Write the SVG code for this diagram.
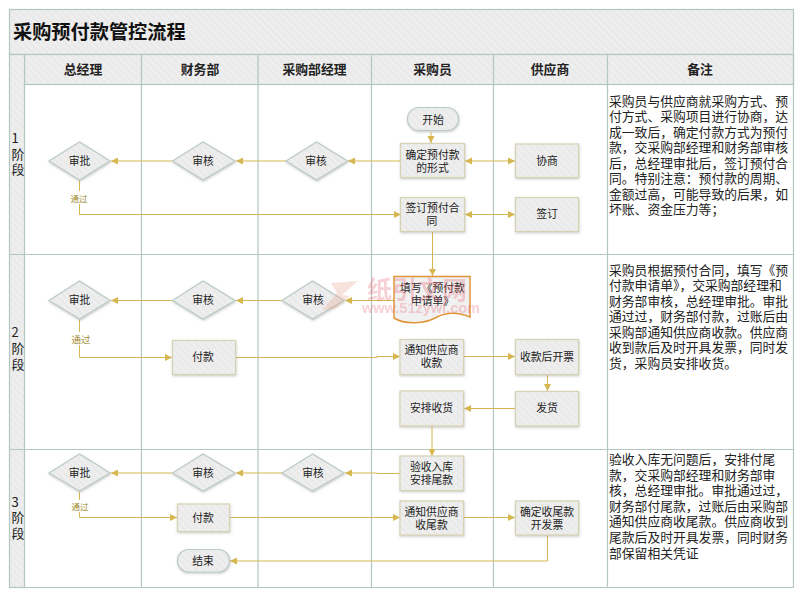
<svg xmlns="http://www.w3.org/2000/svg" width="800" height="592" viewBox="0 0 800 592">
<style>
text{font-family:"Noto Sans CJK SC","Liberation Sans",sans-serif;fill:#222;text-anchor:middle;dominant-baseline:central}
.n{font-size:10.8px}.h{font-size:12.8px;font-weight:700}.s{font-size:13px}
.note{font-size:12.8px;text-anchor:start;dominant-baseline:auto}
.l{stroke:#b4c6c0;stroke-width:1.2;fill:url(#hatch)}
.gl{stroke:#b4c6c0;stroke-width:1.2;fill:none}
.r{fill:url(#hatch);stroke:#d8d2b4;stroke-width:1.2;filter:url(#sh)}
.d{fill:url(#hatch);stroke:#bccbc6;stroke-width:1.2;filter:url(#sh)}
.c{fill:none;stroke:#d6b64e;stroke-width:1}
.t{font-size:8.5px;fill:#a08a30}
</style>
<defs>
<pattern id="hatch" width="5" height="5" patternUnits="userSpaceOnUse" patternTransform="rotate(-45)"><rect width="5" height="5" fill="#eeeeee"/><rect width="2" height="5" fill="#e9e9e9"/></pattern>
<filter id="sh" x="-10%" y="-10%" width="120%" height="125%"><feDropShadow dx="0.5" dy="1.2" stdDeviation="0.8" flood-color="#999" flood-opacity="0.5"/></filter>
<marker id="a" markerWidth="8" markerHeight="8" refX="7" refY="4" orient="auto-start-reverse" markerUnits="userSpaceOnUse"><path d="M0 .5L7 4L0 7.5z" fill="#d6b64e"/></marker>
</defs>
<rect width="800" height="592" fill="#fff"/>
<g id="frame">
<rect class="l" x="9.500" y="9.500" width="784" height="45"/>
<rect class="l" x="24.500" y="54.500" width="769" height="30"/>
<rect class="l" x="9.500" y="54.500" width="15" height="533"/>
<path class="gl" d="M141.500 54.500V587.500M258 54.500V587.500M371.500 54.500V587.500M493.500 54.500V587.500M607.500 54.500V587.500M793.500 54.500V587.500M9.500 254.500H793.500M9.500 449.500H793.500M9.500 587.500H793.500"/>
</g>
<text x="13" y="31" style="font-size:19.2px;font-weight:700;text-anchor:start;fill:#111">采购预付款管控流程</text>
<g id="headers">
<text class="h" x="83" y="68.500">总经理</text><text class="h" x="200" y="68.500">财务部</text><text class="h" x="314.500" y="68.500">采购部经理</text><text class="h" x="432.500" y="68.500">采购员</text><text class="h" x="550" y="68.500">供应商</text><text class="h" x="700" y="68.500">备注</text>
</g>
<g id="stages">
<text class="s" x="15" y="137">1</text><text class="s" x="18" y="153">阶</text><text class="s" x="18" y="168">段</text>
<text class="s" x="15" y="331">2</text><text class="s" x="18" y="347">阶</text><text class="s" x="18" y="363">段</text>
<text class="s" x="15" y="501">3</text><text class="s" x="18" y="516">阶</text><text class="s" x="18" y="532">段</text>
</g>
<g id="connectors">
<path class="c" marker-end="url(#a)" d="M431 132V143"/>
<path class="c" marker-end="url(#a)" d="M401 161H348"/>
<path class="c" marker-end="url(#a)" d="M286 161H236"/>
<path class="c" marker-end="url(#a)" d="M172 161H111"/>
<path class="c" marker-start="url(#a)" marker-end="url(#a)" d="M465 161H515"/>
<path class="c" d="M79.500 180V214.500H401" marker-end="url(#a)"/>
<path class="c" marker-start="url(#a)" marker-end="url(#a)" d="M465 214.500H515"/>
<path class="c" marker-end="url(#a)" d="M432.500 232V276"/>
<path class="c" marker-end="url(#a)" d="M394 300.500H345"/>
<path class="c" marker-end="url(#a)" d="M282 300.500H236"/>
<path class="c" marker-end="url(#a)" d="M172 300.500H111"/>
<path class="c" d="M79.500 319V357.500H172" marker-end="url(#a)"/>
<path class="c" d="M236 357.500H377V356.500H400" marker-end="url(#a)"/>
<path class="c" d="M464 356.500H515" marker-end="url(#a)"/>
<path class="c" d="M547.500 374V391" marker-end="url(#a)"/>
<path class="c" d="M515 408.500H464" marker-end="url(#a)"/>
<path class="c" d="M432 426V456" marker-end="url(#a)"/>
<path class="c" d="M400 473.500H377V473H345" marker-end="url(#a)"/>
<path class="c" d="M282 473H236" marker-end="url(#a)"/>
<path class="c" d="M172 473H111" marker-end="url(#a)"/>
<path class="c" d="M79.500 492V517.500H177" marker-end="url(#a)"/>
<path class="c" d="M230 517.500H400" marker-end="url(#a)"/>
<path class="c" d="M464 517.500H515" marker-end="url(#a)"/>
<path class="c" d="M547.500 535V561H230" marker-end="url(#a)"/>
</g>
<g id="labels">
<rect x="70" y="191" width="18" height="13" fill="#fff"/><text class="t" x="79" y="198">通过</text>
<rect x="70" y="332" width="21" height="13" fill="#fff"/><text class="t" x="81" y="339" style="font-size:9.500px">通过</text>
<rect x="71" y="500" width="18" height="12" fill="#fff"/><text class="t" x="80" y="506">通过</text>
</g>
<g id="n1"><rect class="d" x="407.500" y="107.500" width="51" height="23" rx="11.500"/><text class="n" x="433" y="118.500">开始</text></g>
<g id="n2"><rect class="r" x="400.500" y="143.500" width="64" height="34"/><text class="n" x="432.500" y="153.500">确定预付款</text><text class="n" x="432.500" y="167">的形式</text></g>
<g id="n3"><rect class="r" x="515.500" y="144" width="63" height="33.500"/><text class="n" x="547" y="160">协商</text></g>
<g id="n4"><polygon class="d" points="49,161 79.500,142 110,161 79.500,180"/><text class="n" x="79.500" y="160">审批</text></g>
<g id="n5"><polygon class="d" points="172.500,161 203,142 235,161 203,180"/><text class="n" x="203" y="160">审核</text></g>
<g id="n6"><polygon class="d" points="286,161 316.500,142 347.500,161 316.500,180"/><text class="n" x="316" y="160">审核</text></g>
<g id="n7"><rect class="r" x="400.500" y="197.500" width="64" height="34"/><text class="n" x="432.500" y="207">签订预付合</text><text class="n" x="432" y="220">同</text></g>
<g id="n8"><rect class="r" x="515.500" y="197.500" width="63" height="34"/><text class="n" x="547" y="213">签订</text></g>
<g id="n9"><path d="M394 276.500H470V317C458 312 447 312 437 317C425 324 405 325 394 318z" fill="#f1f1f1" stroke="#e0953a" stroke-width="1.500"/><text class="n" x="432.500" y="287">填写《预付款</text><text class="n" x="432.500" y="300">申请单》</text></g>
<g id="n10"><polygon class="d" points="49,300.500 79.500,281 110,300.500 79.500,319"/><text class="n" x="79.500" y="299">审批</text></g>
<g id="n11"><polygon class="d" points="172.500,300.500 203,281 235,300.500 203,319"/><text class="n" x="203" y="299">审核</text></g>
<g id="n12"><polygon class="d" points="282,300.500 312.500,281 344,300.500 312.500,319"/><text class="n" x="313" y="299">审核</text></g>
<g id="n13"><rect class="r" x="172.500" y="340.500" width="63" height="34"/><text class="n" x="203" y="356">付款</text></g>
<g id="n14"><rect class="r" x="400" y="339.500" width="63.500" height="35"/><text class="n" x="431.500" y="349">通知供应商</text><text class="n" x="431.500" y="362">收款</text></g>
<g id="n15"><rect class="r" x="515.500" y="339.500" width="63" height="35"/><text class="n" x="547" y="355.500">收款后开票</text></g>
<g id="n16"><rect class="r" x="400" y="391" width="63.500" height="35"/><text class="n" x="431.500" y="407">安排收货</text></g>
<g id="n17"><rect class="r" x="515.500" y="391.500" width="63" height="34.500"/><text class="n" x="547" y="407">发货</text></g>
<g id="n18"><polygon class="d" points="49,473 79.500,454 110,473 79.500,491"/><text class="n" x="79.500" y="471.500">审批</text></g>
<g id="n19"><polygon class="d" points="172.500,473 203,454 235,473 203,491"/><text class="n" x="203" y="471.500">审核</text></g>
<g id="n20"><polygon class="d" points="282,473 312.500,454 344,473 312.500,491"/><text class="n" x="313" y="471.500">审核</text></g>
<g id="n21"><rect class="r" x="400" y="456" width="63.500" height="34.500"/><text class="n" x="431.500" y="466">验收入库</text><text class="n" x="431.500" y="479">安排尾款</text></g>
<g id="n22"><rect class="r" x="177.500" y="504" width="52" height="27.500"/><text class="n" x="203" y="517">付款</text></g>
<g id="n23"><rect class="r" x="400" y="501" width="63.500" height="34"/><text class="n" x="431.500" y="511">通知供应商</text><text class="n" x="431.500" y="523.500">收尾款</text></g>
<g id="n24"><rect class="r" x="515.500" y="501" width="63" height="34"/><text class="n" x="547" y="511">确定收尾款</text><text class="n" x="547" y="523.500">开发票</text></g>
<g id="n25"><rect class="d" x="177.500" y="549.500" width="52" height="22.500" rx="11.250"/><text class="n" x="203" y="560">结束</text></g>
<g id="watermark" opacity=".3">
<path d="M331 283L358 281L342 295L350 296L335 309L322 310L337 293z" fill="#e9a58f"/>
<text x="417" y="288" style="font-size:25px;font-weight:700;fill:#e66a78">纸引文网</text>
<text x="421" y="308" style="font-size:14.5px;font-weight:700;fill:#e66a78;font-family:'Liberation Sans',sans-serif">www.51zywl.com</text>
</g>
<g id="notes">
<text class="note" x="609" y="106">采购员与供应商就采购方式、预</text>
<text class="note" x="609" y="121">付方式、采购项目进行协商，达</text>
<text class="note" x="609" y="137">成一致后，确定付款方式为预付</text>
<text class="note" x="609" y="152">款，交采购部经理和财务部审核</text>
<text class="note" x="609" y="168">后，总经理审批后，签订预付合</text>
<text class="note" x="609" y="183">同。特别注意：预付款的周期、</text>
<text class="note" x="609" y="199">金额过高，可能导致的后果，如</text>
<text class="note" x="609" y="214">坏账、资金压力等；</text>
<text class="note" x="609" y="275">采购员根据预付合同，填写《预</text>
<text class="note" x="609" y="290">付款申请单》，交采购部经理和</text>
<text class="note" x="609" y="306">财务部审核，总经理审批。审批</text>
<text class="note" x="609" y="321">通过过，财务部付款，过账后由</text>
<text class="note" x="609" y="337">采购部通知供应商收款。供应商</text>
<text class="note" x="609" y="352">收到款后及时开具发票，同时发</text>
<text class="note" x="609" y="368">货，采购员安排收货。</text>
<text class="note" x="609" y="464">验收入库无问题后，安排付尾</text>
<text class="note" x="609" y="480">款，交采购部经理和财务部审</text>
<text class="note" x="609" y="495">核，总经理审批。审批通过过，</text>
<text class="note" x="609" y="511">财务部付尾款，过账后由采购部</text>
<text class="note" x="609" y="526">通知供应商收尾款。供应商收到</text>
<text class="note" x="609" y="542">尾款后及时开具发票，同时财务</text>
<text class="note" x="609" y="558">部保留相关凭证</text>
</g>
</svg>
